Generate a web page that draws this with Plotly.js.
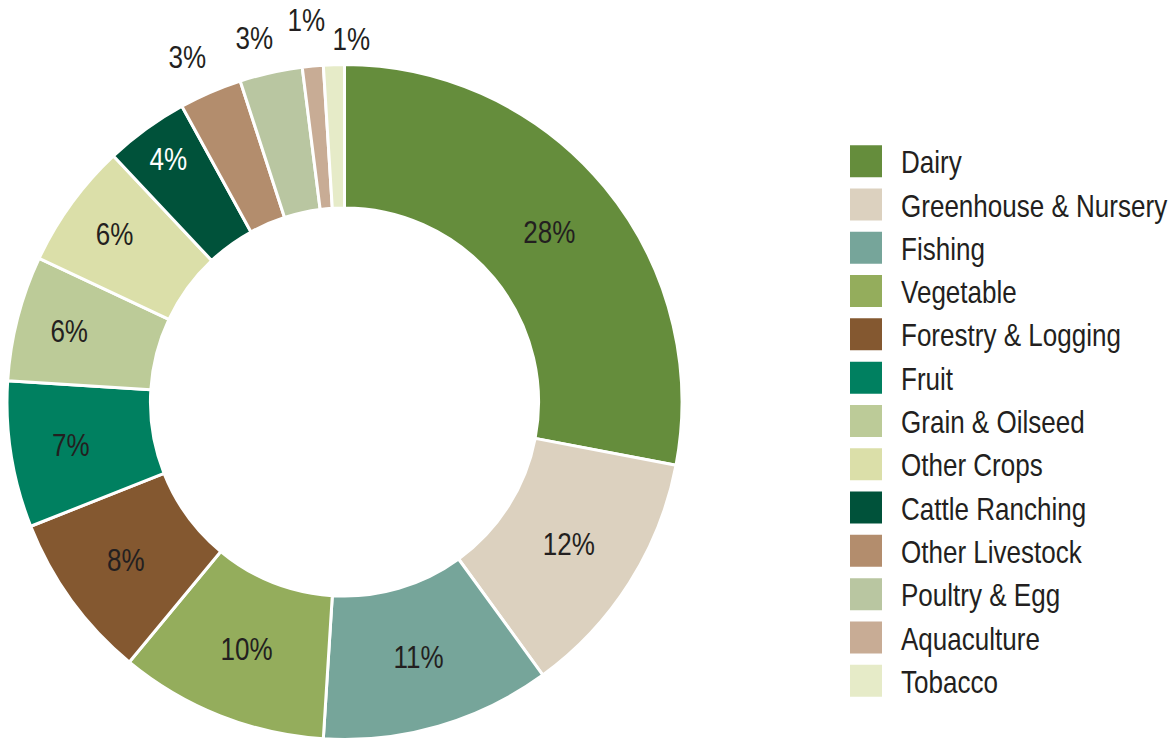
<!DOCTYPE html>
<html>
<head>
<meta charset="utf-8">
<script src="https://cdn.plot.ly/plotly-3.0.1.min.js"></script>
<style>
html,body{margin:0;padding:0;background:#fff;}
#chart{width:1176px;height:741px;}
</style>
</head>
<body>
<div id="chart"></div>
<script>
// ---- data ----
const categories = ["Dairy","Greenhouse & Nursery","Fishing","Vegetable","Forestry & Logging","Fruit","Grain & Oilseed","Other Crops","Cattle Ranching","Other Livestock","Poultry & Egg","Aquaculture","Tobacco"];
const shares = [28,12,11,10,8,7,6,6,4,3,3,1,1];

// ---- styles ----
const colors = ["#658d3c","#dcd1bf","#76a59a","#94ad5c","#845830","#008060","#bccb98","#dbdfa9","#00523a","#b38d6d","#b9c6a1","#c8ac95","#e6ebc8"];
const textColors = ["#231f20","#231f20","#231f20","#231f20","#231f20","#231f20","#231f20","#231f20","#ffffff","#231f20","#231f20","#231f20","#231f20"];
const textPositions = ["inside","inside","inside","inside","inside","inside","inside","inside","inside","none","none","none","none"];
// label placement for slices labelled outside the ring (radius factor, angle nudge in degrees)
const outsideRadius = [1.123, 1.111, 1.135, 1.073];
const outsideNudge  = [-1.1, -1.3, -0.3, 2.9];

const FONT = "'Liberation Sans', Arial, sans-serif";
const NARROW = 0.84;
const W = 1176, H = 741;
const PIE_L = 7, PIE_R = 682, PIE_T = 64, PIE_B = 740;

const trace = {
  type: "pie",
  labels: categories,
  values: shares,
  sort: false,
  direction: "clockwise",
  rotation: 0,
  hole: 0.575,
  marker: {colors: colors, line: {color: "#ffffff", width: 3}},
  texttemplate: "%{value}%",
  textposition: textPositions,
  insidetextorientation: "horizontal",
  insidetextfont: {family: FONT, size: 31, color: textColors},
  domain: {x: [PIE_L/W, PIE_R/W], y: [1 - PIE_B/H, 1 - PIE_T/H]},
  hoverinfo: "label+percent",
  automargin: false
};

// outside labels for the thin slices, placed along each slice's mid-angle
const total = shares.reduce((a,b)=>a+b,0);
const cx = (PIE_L + PIE_R)/2, cy = (PIE_T + PIE_B)/2;
const R = Math.min(PIE_R - PIE_L, PIE_B - PIE_T)/2;
const annotations = [];
let cum = 0, k = 0;
shares.forEach(function(v, i){
  const mid = (cum + v/2) / total * 360;
  cum += v;
  if (textPositions[i] === "none") {
    const th = (mid + outsideNudge[k]) * Math.PI/180;
    const r = R * outsideRadius[k];
    annotations.push({
      xref: "paper", yref: "paper",
      x: (cx + r*Math.sin(th))/W, y: 1 - (cy - r*Math.cos(th))/H,
      xanchor: "center", yanchor: "middle",
      text: v + "%", showarrow: false,
      font: {family: FONT, size: 31, color: "#231f20"}
    });
    k++;
  }
});

const layout = {
  width: W, height: H,
  margin: {l: 0, r: 0, t: 0, b: 0, autoexpand: false},
  paper_bgcolor: "#ffffff",
  showlegend: true,
  annotations: annotations,
  legend: {
    x: 831/W, xanchor: "left",
    y: 1 - 134.5/H, yanchor: "top",
    font: {family: FONT, size: 31, color: "#231f20"},
    itemwidth: 60,
    tracegroupgap: 0,
    bgcolor: "rgba(0,0,0,0)"
  }
};

// condense text horizontally (the reference uses a narrow typeface)
function narrowText(el, anchorLeft){
  const bb = el.getBBox();
  const c = anchorLeft ? bb.x : bb.x + bb.width/2;
  const t = el.getAttribute("transform") || "";
  el.setAttribute("transform", (t + " translate(" + c + ",0) scale(" + NARROW + ",1) translate(" + (-c) + ",0)").trim());
}

Plotly.newPlot("chart", [trace], layout, {displayModeBar: false, staticPlot: true}).then(function(gd){
  gd.querySelectorAll(".legend .legendpoints path").forEach(function(p){
    p.setAttribute("d", "M16,16H-16V-16H16Z");
    p.style.strokeWidth = "0";
  });
  gd.querySelectorAll(".slicetext text, text.slicetext, .annotation-text").forEach(function(el){ narrowText(el, false); });
  gd.querySelectorAll(".legendtext").forEach(function(el){ narrowText(el, true); });
});
</script>
</body>
</html>
